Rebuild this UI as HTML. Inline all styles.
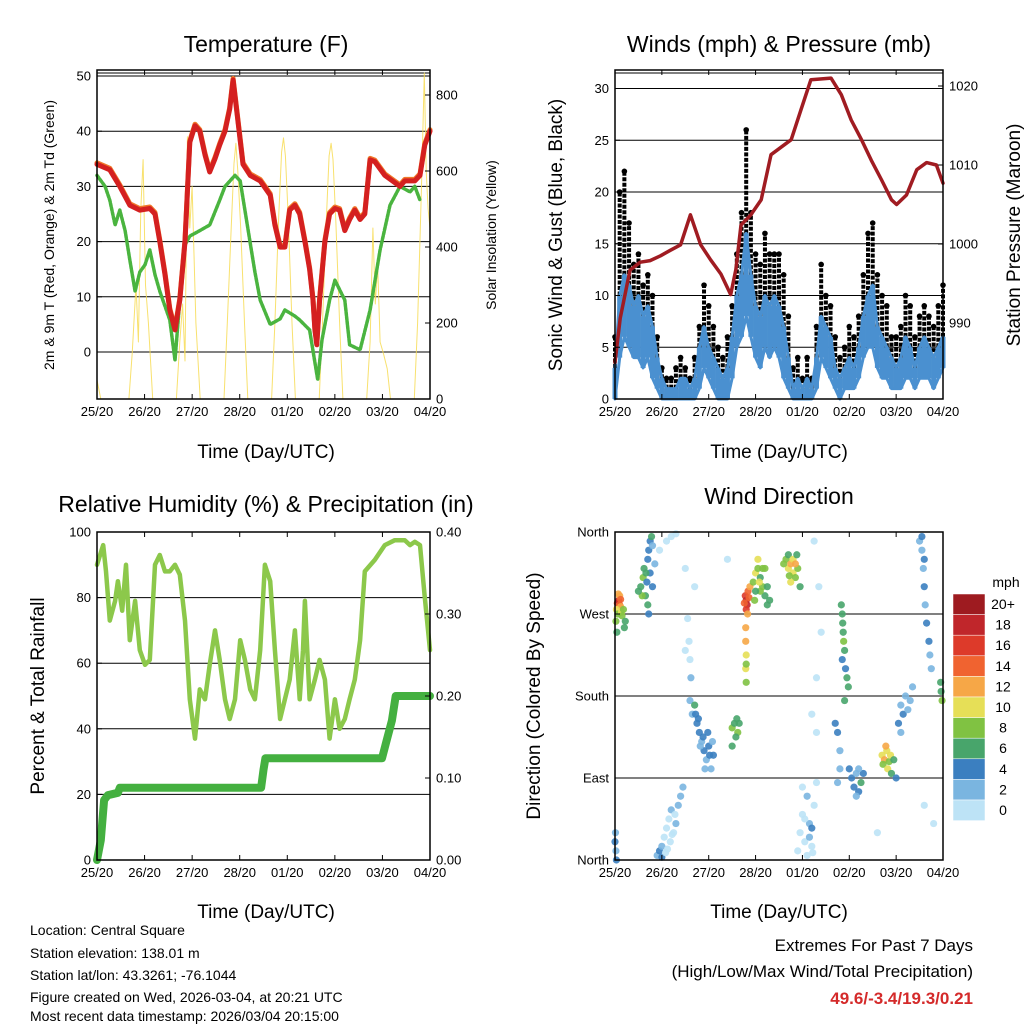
<!DOCTYPE html>
<html><head><meta charset="utf-8"><style>
html,body{margin:0;padding:0;background:#fff;}
svg{display:block;font-family:"Liberation Sans",sans-serif;}
</style></head><body>
<svg id="s" width="1024" height="1024" viewBox="0 0 1024 1024" xmlns="http://www.w3.org/2000/svg">
<text x="266" y="52" font-size="23" text-anchor="middle">Temperature (F)</text>
<text x="779" y="52" font-size="23" text-anchor="middle">Winds (mph) &amp; Pressure (mb)</text>
<text x="266" y="512" font-size="23" text-anchor="middle">Relative Humidity (%) &amp; Precipitation (in)</text>
<text x="779" y="504" font-size="23" text-anchor="middle">Wind Direction</text>
<text x="266" y="458" font-size="19" text-anchor="middle">Time (Day/UTC)</text>
<text x="779" y="458" font-size="19" text-anchor="middle">Time (Day/UTC)</text>
<text x="266" y="918" font-size="19" text-anchor="middle">Time (Day/UTC)</text>
<text x="779" y="918" font-size="19" text-anchor="middle">Time (Day/UTC)</text>
<text transform="translate(54,235) rotate(-90)" font-size="14" text-anchor="middle">2m &amp; 9m T (Red, Orange) &amp; 2m Td (Green)</text>
<text transform="translate(496,235) rotate(-90)" font-size="14" text-anchor="middle">Solar Insolation (Yellow)</text>
<text transform="translate(562,235) rotate(-90)" font-size="19" text-anchor="middle">Sonic Wind &amp; Gust (Blue, Black)</text>
<text transform="translate(1020,235) rotate(-90)" font-size="19" text-anchor="middle">Station Pressure (Maroon)</text>
<text transform="translate(44,696) rotate(-90)" font-size="19" text-anchor="middle">Percent &amp; Total Rainfall</text>
<text transform="translate(540,696) rotate(-90)" font-size="19" text-anchor="middle">Direction (Colored By Speed)</text>
<g font-size="14">
<text x="30" y="935">Location: Central Square</text>
<text x="30" y="958">Station elevation: 138.01 m</text>
<text x="30" y="980">Station lat/lon: 43.3261; -76.1044</text>
<text x="30" y="1002">Figure created on Wed, 2026-03-04, at 20:21 UTC</text>
<text x="30" y="1024" dy="-3">Most recent data timestamp: 2026/03/04 20:15:00</text>
</g>
<g text-anchor="end">
<text x="973" y="951" font-size="17">Extremes For Past 7 Days</text>
<text x="973" y="977" font-size="17">(High/Low/Max Wind/Total Precipitation)</text>
<text x="973" y="1004" font-size="17" font-weight="bold" fill="#d42a2a">49.6/-3.4/19.3/0.21</text>
</g>
<text x="1006" y="587" font-size="14" text-anchor="middle">mph</text>
</svg>
<script>
// ---------- DATA ----------
const dayLabels=["25/20","26/20","27/20","28/20","01/20","02/20","03/20","04/20"];
const tempT=[0,0.27,0.48,0.69,0.9,1.11,1.22,1.32,1.43,1.53,1.64,1.74,1.85,1.95,2.06,2.16,2.27,2.37,2.48,2.58,2.69,2.79,2.86,3.07,3.22,3.43,3.64,3.74,3.85,3.95,4.05,4.16,4.26,4.37,4.47,4.54,4.58,4.62,4.68,4.79,4.89,5.0,5.1,5.21,5.31,5.42,5.53,5.63,5.74,5.84,6.05,6.37,6.47,6.68,6.79,6.89,7.0];
const tempRed=[34,33,30,26.6,25.7,26,25,20,14,7.6,4,9.4,20,38,41,40,35.7,32.6,35,37.5,40,44,49.3,34,32,31,28.4,23,19,19,25.7,26.6,25,20,15,9.4,4,1.3,9.4,20,25,26,25.7,22,24,25.7,24,25,34.8,34.5,32,30,31,31,32,37.5,40];
const dewT=[0,0.17,0.27,0.38,0.48,0.59,0.69,0.8,0.9,1.01,1.11,1.22,1.32,1.53,1.64,1.74,1.85,1.95,2.16,2.37,2.58,2.69,2.9,3.01,3.11,3.32,3.43,3.64,3.85,3.95,4.16,4.26,4.47,4.64,4.73,4.89,5.0,5.21,5.31,5.53,5.74,5.95,6.16,6.37,6.58,6.68,6.79];
const dewV=[32,30,27.5,23,25.7,22,16.7,11,14.5,15.8,18.5,14,11,5.8,-1.5,9.4,19.4,21,22,23,27.5,30,32,31,25.7,14.5,9.4,5,6,7.6,6.5,5.8,4,-5,2.2,9.4,13,9.4,1.3,0.4,7.6,18.5,26.6,30,29,30,27.5];
const solarT=[0,0.08,0.67,0.74,0.82,0.87,0.92,0.97,1.02,1.08,1.17,1.67,1.74,1.8,1.85,1.9,1.95,2.0,2.08,2.17,2.67,2.74,2.82,2.88,2.92,2.96,3.02,3.1,3.17,3.67,3.74,3.82,3.88,3.92,3.96,4.02,4.1,4.17,4.67,4.74,4.82,4.88,4.92,4.96,5.02,5.1,5.17,5.67,5.74,5.8,5.85,5.9,5.95,6.02,6.1,6.17,6.67,6.74,6.82,6.88,6.92,6.96,7.0];
const solarV=[50,0,0,120,300,150,500,630,300,200,0,0,150,250,100,690,450,560,200,0,0,200,450,620,673,600,450,200,0,0,200,480,650,687,640,480,200,0,0,200,470,640,673,630,470,200,0,0,150,450,250,350,150,120,80,0,0,200,550,858,600,500,450];
const windT=[0,0.1,0.2,0.3,0.4,0.5,0.6,0.7,0.8,0.9,1.0,1.1,1.2,1.3,1.4,1.5,1.6,1.7,1.8,1.9,2.0,2.1,2.2,2.3,2.4,2.5,2.6,2.7,2.8,2.9,3.0,3.1,3.2,3.3,3.4,3.5,3.6,3.7,3.8,3.9,4.0,4.1,4.2,4.3,4.4,4.5,4.6,4.7,4.8,4.9,5.0,5.1,5.2,5.3,5.4,5.5,5.6,5.7,5.8,5.9,6.0,6.1,6.2,6.3,6.4,6.5,6.6,6.7,6.8,6.9,7.0];
const windV=[3,10,12,11,9,10,8,9,7,4,2,1,1,1,2,2,1,2,5,7,5,4,3,2,3,6,10,12,16,12,9,8,10,9,10,9,7,4,1,2,1,2,1,4,8,7,6,3,2,3,4,3,5,8,10,11,7,6,5,4,3,4,6,5,3,5,6,5,4,5,6];
const windLo=[0,4,6,5,4,4,3,4,2,1,0,0,0,0,0,0,0,0,1,3,2,1,0,0,0,2,5,6,8,6,4,3,5,4,5,4,2,1,0,0,0,0,0,1,4,3,2,1,0,1,1,1,2,4,5,5,3,2,2,1,1,1,2,2,1,2,2,2,1,2,3];
const gustV=[6,20,22,17,13,14,11,12,10,6,3,2,2,3,4,3,2,4,7,11,9,7,5,4,6,9,14,18,26,18,14,13,16,14,14,14,12,8,3,4,2,4,2,7,13,10,9,6,4,5,7,6,8,12,16,17,12,10,9,6,6,7,10,9,6,8,9,8,7,9,11];
const presT=[0,0.11,0.32,0.54,0.75,0.97,1.18,1.4,1.61,1.83,2.04,2.26,2.47,2.58,2.69,2.9,3.12,3.33,3.76,3.97,4.18,4.61,4.83,5.04,5.26,5.47,5.69,5.9,6.01,6.22,6.44,6.65,6.86,7.0];
const presV=[985,990.6,996.7,997.7,997.9,998.5,999.2,999.9,1003.7,999.9,998,996.2,993.6,996.8,1002.4,1003.7,1005.6,1011.3,1013.2,1017,1020.8,1021,1018.9,1015.7,1013.2,1010.6,1008.1,1005.6,1005,1006.2,1009.4,1010.3,1010,1007.7];
const rhT=[0,0.13,0.19,0.27,0.38,0.44,0.53,0.61,0.69,0.8,0.9,1.01,1.11,1.22,1.32,1.43,1.53,1.64,1.74,1.85,1.95,2.06,2.16,2.27,2.37,2.48,2.58,2.69,2.79,2.9,3.01,3.11,3.22,3.32,3.43,3.53,3.64,3.74,3.85,3.95,4.05,4.16,4.26,4.33,4.37,4.47,4.58,4.68,4.79,4.89,5.0,5.1,5.21,5.31,5.42,5.53,5.63,5.84,6.05,6.26,6.47,6.58,6.68,6.79,6.89,7.0];
const rhV=[90,96,88,73,79,85,76,90,67,79,64,59.5,61,90,93,88,88,90,87,73,49,37,52,49,59.5,70,61,49,43,49,67,61,52,49,64,90,85,64,43,49,55,70,49,64,79,49,55,61,55,37,49,40,43,49,55,67,88,91.5,96,97.5,97.5,96,97,96,80,64];
const precipT=[0,0.08,0.15,0.23,0.44,0.48,2.98,3.45,3.5,3.54,5.99,6.09,6.2,6.28,7.0];
const precipV=[0,0.024,0.073,0.079,0.082,0.088,0.088,0.088,0.11,0.124,0.124,0.146,0.17,0.2,0.2];
// wind direction observations: [day, degrees, mph]
const dirObs=[
[0.05,282,16],[0.08,285,19],[0.1,280,14],[0.12,278,12],[0.03,275,10],[0.06,270,9],[0.14,272,11],[0.1,290,12],[0.15,268,8],[0.02,262,8],[0.04,250,6],[0.2,255,6],[0.22,262,7],[0.18,275,9],[0.07,292,13],[0.12,286,15],
[0.55,300,7],[0.6,310,8],[0.62,320,6],[0.65,290,7],[0.68,305,5],[0.7,330,4],[0.72,340,5],[0.75,350,4],[0.78,355,6],[0.8,345,3],[0.85,325,2],[0.7,280,6],[0.72,270,5],[0.58,290,8],[0.75,315,4],[0.8,300,5],[0.5,295,6],[0.66,315,6],
[1.1,350,1],[1.2,355,1],[1.3,358,1],[0.95,340,1],[1.5,320,1],[1.7,300,1],
[1.55,265,1],[1.58,240,1],[1.6,220,1],[1.62,200,2],[1.6,175,2],[1.65,160,3],[1.5,230,1],
[1.7,170,6],[1.72,160,5],[1.75,150,4],[1.8,140,4],[1.85,130,3],[1.9,120,4],[1.95,110,3],[2.0,125,4],[2.05,100,3],[2.1,115,4],[1.78,155,5],[1.88,135,4],[1.98,140,4],[2.08,130,3],[1.92,100,3],[1.82,125,3],[2.02,115,5],
[2.5,145,8],[2.55,150,7],[2.6,155,7],[2.62,140,8],[2.58,135,6],[2.65,150,6],[2.5,125,7],
[0.9,5,3],[0.95,10,4],[1.0,15,2],[1.05,25,1],[1.1,35,1],[1.15,45,1],[1.2,55,2],[1.25,30,1],[1.3,40,2],[1.35,60,3],[1.4,70,2],[1.0,3,4],[1.08,8,1],[1.18,20,1],[1.28,50,1],[1.45,80,2],[1.12,12,1],[1.22,28,0],
[0.0,20,4],[0.02,10,3],[0.01,30,3],[0.03,0,4],
[2.78,290,16],[2.8,285,19],[2.82,280,18],[2.84,295,14],[2.86,288,15],[2.8,275,17],[2.88,300,12],[2.76,282,14],[2.83,270,13],
[2.79,255,12],[2.79,240,12],[2.8,225,10],[2.79,210,11],[2.8,195,8],[2.8,215,9],
[2.95,305,9],[3.0,315,10],[3.05,320,8],[3.1,310,7],[3.15,300,8],[3.2,290,6],[3.25,280,7],[3.1,295,9],[3.0,295,7],[3.2,320,9],[3.3,285,6],[3.05,330,10],[2.98,285,8],[3.15,320,8],[3.08,305,11],[3.25,300,7],
[3.65,330,8],[3.7,320,10],[3.75,325,12],[3.8,315,11],[3.85,310,9],[3.9,320,8],[3.7,335,7],[3.8,330,10],[3.95,300,7],[3.75,305,11],[3.6,325,8],[3.85,325,13],[3.72,312,9],[3.88,335,6],
[3.9,10,1],[3.95,30,1],[4.0,50,1],[4.05,20,0],[4.1,70,2],[4.15,40,3],[4.2,15,1],[4.25,60,1],[4.3,85,1],[4.1,5,1],[4.2,35,4],[4.0,80,1],[4.15,25,2],[4.05,45,0],[4.22,8,1],
[4.3,200,1],[4.4,250,1],[4.35,300,1],[4.2,160,1],[4.3,140,1],[4.25,350,1],
[4.83,280,6],[4.85,270,7],[4.86,260,6],[4.87,250,7],[4.88,240,8],[4.9,230,6],[4.92,210,5],[4.95,200,6],[4.98,190,7],[4.9,175,6],[4.85,220,5],
[4.7,150,4],[4.75,140,4],[4.8,120,3],[5.0,100,4],[5.05,90,5],[5.1,80,4],[5.15,95,3],[5.2,75,4],[5.25,85,6],[5.3,95,5],[5.2,100,3],[5.15,70,2],[4.8,100,3],[4.75,85,2],
[5.7,115,11],[5.75,110,12],[5.8,120,10],[5.85,108,9],[5.78,125,12],[5.72,105,8],[5.88,115,10],[5.82,100,11],
[5.9,95,7],[5.95,110,6],[6.0,90,5],
[6.05,150,4],[6.1,170,3],[6.15,160,4],[6.2,180,2],[6.25,165,3],[6.3,175,2],[6.35,190,2],[6.1,140,3],
[6.5,350,2],[6.55,340,3],[6.58,320,2],[6.6,300,4],[6.62,280,3],[6.65,260,4],[6.7,240,4],[6.72,225,3],[6.75,210,2],[6.55,355,4],[6.6,330,4],
[6.95,195,7],[6.96,185,6],[6.98,175,8],
[6.6,60,1],[6.8,40,1],[5.6,30,1],[2.4,330,1]
];
const cbLabels=["20+","18","16","14","12","10","8","6","4","2","0"];
const cbColors=["#9e1b20","#c0262b","#dd3a2a","#f06330","#f6a747","#e6df57","#80c242","#48a56b","#3b7fc0","#7ab5e0","#bde3f6"];

// ---------- HELPERS ----------
const NS="http://www.w3.org/2000/svg";
const svg=document.getElementById('s');
function mk(tag,attrs,parent){const e=document.createElementNS(NS,tag);for(const k in attrs)e.setAttribute(k,attrs[k]);(parent||svg).appendChild(e);return e;}
function panel(x0,x1,y0,y1){return {x:d=>x0+(x1-x0)*d/7,x0,x1,y0,y1};}
const P1=panel(97,430,70,399), P2=panel(615,943,70,399), P3=panel(97,430,532,860), P4=panel(615,943,532,860);
const t1L=v=>352-5.52*v, t1R=v=>399-0.38*v;
const w2L=v=>399-10.35*v, w2R=v=>244-7.9*(v-1000);
const r3L=v=>860-3.28*v, r3R=v=>860-820*v;
const d4=v=>860-v/360*328;
function poly(xs,ys,P,fy,stroke,w,name,extra){
  let pts=xs.map((t,i)=>P.x(t).toFixed(1)+','+fy(ys[i]).toFixed(1)).join(' ');
  const e=mk('polyline',Object.assign({points:pts,fill:'none',stroke:stroke,'stroke-width':w,'stroke-linejoin':'round','stroke-linecap':'round'},extra||{}));
  
  
  return e;
}
function frame(P,name){
  const g=mk('rect',{x:P.x0,y:P.y0,width:P.x1-P.x0,height:P.y1-P.y0,fill:'none',stroke:'#000','stroke-width':1.5});
  
  
  dayLabels.forEach((l,i)=>{
    const x=P.x(i);
    mk('line',{x1:x,x2:x,y1:P.y1,y2:P.y1-5,stroke:'#000'});
    mk('line',{x1:x,x2:x,y1:P.y0,y2:P.y0+5,stroke:'#000'});
    const t=mk('text',{x:x,y:P.y1+17,'font-size':13,'text-anchor':'middle'});t.textContent=l;
    
    
  });
}
function ytick(P,val,fy,label,side){
  const y=fy(val);
  if(side==='L'){mk('line',{x1:P.x0,x2:P.x0+5,y1:y,y2:y,stroke:'#000'});
    const t=mk('text',{x:P.x0-6,y:y+4.5,'font-size':13,'text-anchor':'end'});t.textContent=label;
    
    }
  else {mk('line',{x1:P.x1,x2:P.x1-5,y1:y,y2:y,stroke:'#000'});
    const t=mk('text',{x:P.x1+6,y:y+4.5,'font-size':13,'text-anchor':'start'});t.textContent=label;
    
    }
}
function grid(P,y){mk('line',{x1:P.x0,x2:P.x1,y1:y,y2:y,stroke:'#000','stroke-width':1});}

// ---------- PANEL 1 ----------
[0,10,20,30,40,50].forEach(v=>grid(P1,t1L(v)));
grid(P1,73);
poly(solarT,solarV,P1,t1R,'#f7dc55',1,'solar-insolation-line',{opacity:0.85});
poly(dewT,dewV,P1,t1L,'#4ab43f',3.5,'dewpoint-line',{'stroke-dasharray':'3 1.5'});
poly(tempT,tempRed,P1,v=>t1L(v)-1.5,'#f0782a',5,'temp-9m-line');
poly(tempT,tempRed,P1,t1L,'#d42020',5,'temp-2m-line');
frame(P1,'temperature-plot-frame');
[0,10,20,30,40,50].forEach(v=>ytick(P1,v,t1L,String(v),'L'));
[0,200,400,600,800].forEach(v=>ytick(P1,v,t1R,String(v),'R'));

// ---------- PANEL 2 ----------
[5,10,15,20,25,30].forEach(v=>grid(P2,w2L(v)));
grid(P2,73);
windT.forEach((t,i)=>{
  const g=mk('line',{x1:P2.x(t),x2:P2.x(t),y1:w2L(windV[i]),y2:w2L(gustV[i]),stroke:'#000','stroke-width':4,'stroke-dasharray':'4 1.5'});
  
  
});
windT.forEach((t,i)=>{
  const c=mk('circle',{cx:P2.x(t),cy:w2L(gustV[i]),r:2.8,fill:'#000'});
  
  
});
windT.forEach((t,i)=>{
  const b=mk('line',{x1:P2.x(t),x2:P2.x(t),y1:w2L(windLo[i]),y2:w2L(windV[i]),stroke:'#4a90d0','stroke-width':5});
  
  
});
poly(windT,windV,P2,w2L,'#4a90d0',3,'wind-speed-line');
poly(windT,windLo,P2,w2L,'#4a90d0',3,'wind-low-line');
poly(presT,presV,P2,w2R,'#a01c22',3.5,'pressure-line');
frame(P2,'winds-plot-frame');
[0,5,10,15,20,25,30].forEach(v=>ytick(P2,v,w2L,String(v),'L'));
[990,1000,1010,1020].forEach(v=>ytick(P2,v,w2R,String(v),'R'));

// ---------- PANEL 3 ----------
[20,40,60,80].forEach(v=>grid(P3,r3L(v)));
poly(rhT,rhV,P3,r3L,'#8cc84b',4.5,'relative-humidity-line');
poly(precipT,precipV,P3,r3R,'#44b040',8,'precipitation-line');
frame(P3,'humidity-plot-frame');
[0,20,40,60,80,100].forEach(v=>ytick(P3,v,r3L,String(v),'L'));
[0,0.1,0.2,0.3,0.4].forEach(v=>ytick(P3,v,r3R,v.toFixed(2),'R'));

// ---------- PANEL 4 ----------
[90,180,270].forEach(v=>grid(P4,d4(v)));
dirObs.forEach(o=>{
  const bin=Math.min(10,Math.floor(o[2]/2));
  const c=mk('circle',{cx:P4.x(o[0]),cy:d4(o[1]),r:3.6,fill:cbColors[10-bin],opacity:0.9});
  
  
});
frame(P4,'wind-direction-plot-frame');
["North","East","South","West","North"].forEach((l,i)=>ytick(P4,i*90,d4,l,'L'));

// ---------- COLORBAR ----------
cbColors.forEach((c,i)=>{
  const r=mk('rect',{x:953,y:594+i*20.6,width:32,height:20.6,fill:c,stroke:'#fff','stroke-width':0.5});
  
  
  const t=mk('text',{x:1003,y:594+i*20.6+15,'font-size':14,'text-anchor':'middle'});t.textContent=cbLabels[i];
  
  
});
</script>
</body></html>
